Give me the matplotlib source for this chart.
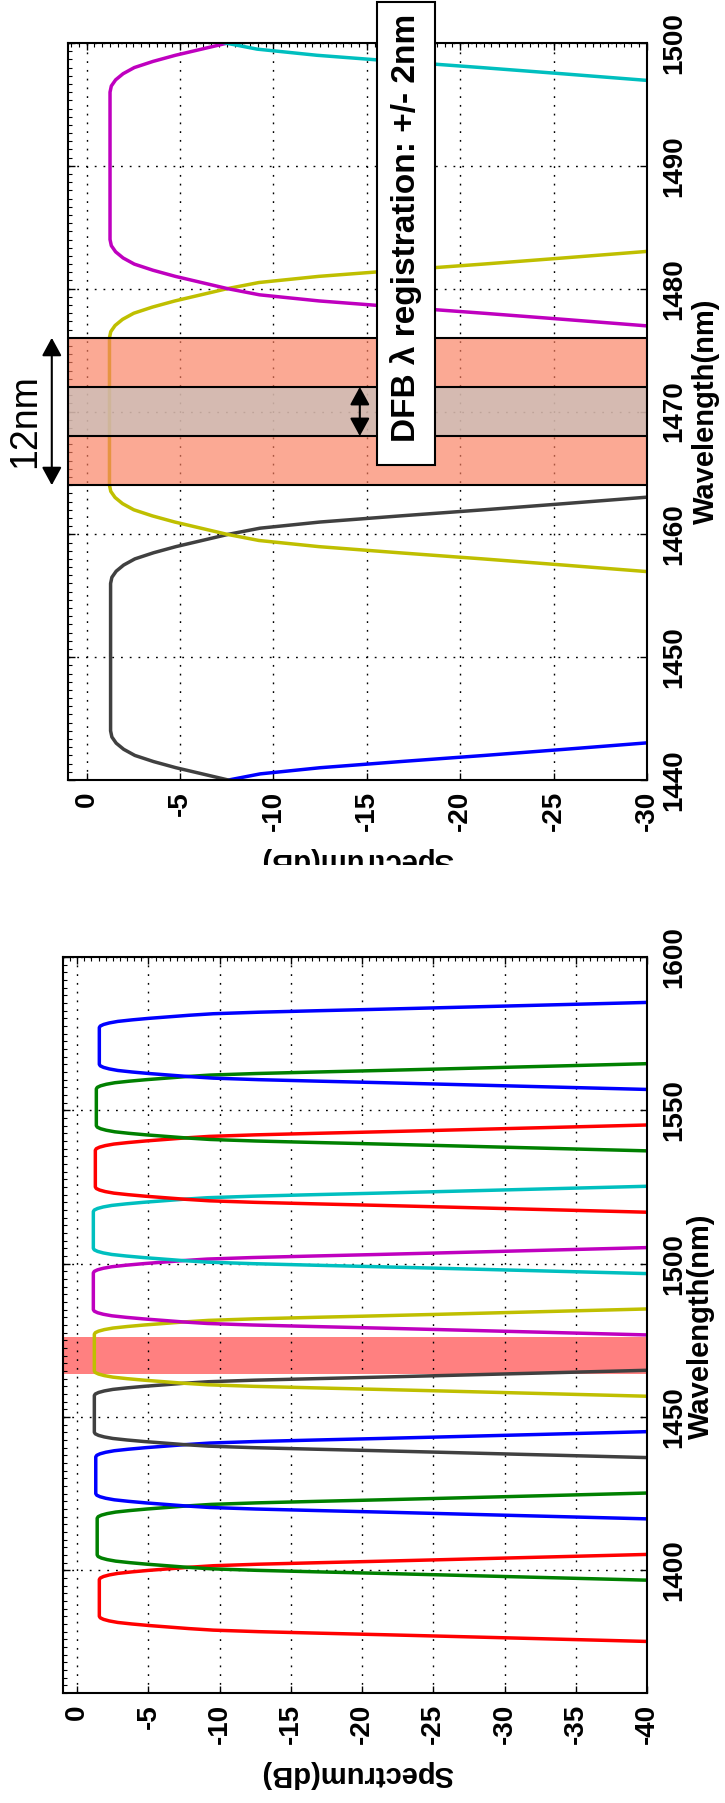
import numpy as np
import matplotlib
matplotlib.use("Agg")
import matplotlib.pyplot as plt
from matplotlib.patches import Rectangle
from matplotlib.ticker import MultipleLocator

plt.rcParams["font.family"] = ["Liberation Sans", "DejaVu Sans"]
plt.rcParams["font.weight"] = "bold"
plt.rcParams["axes.unicode_minus"] = False

W, H = 725, 1803

# passband shape: offset from channel centre (nm) -> drop below flat top (dB)
profile_offset = [0, 6.0, 6.5, 7.0, 7.5, 8.0, 8.5, 9.0, 9.5, 10.0, 10.5, 11.0,
                  11.5, 12.0, 12.5, 13.0, 13.5, 14.0, 14.5, 15.0, 16.0]
profile_drop = [0, 0.0, 0.07, 0.3, 0.7, 1.3, 2.3, 3.5, 4.9, 6.3, 8.0, 11.2,
                15.5, 20.0, 24.3, 28.5, 32.7, 36.9, 41.0, 45.0, 53.0]

# full CWDM view (lower panel)
full_centers = [1391, 1411, 1431, 1451, 1471, 1491, 1511, 1531, 1551, 1571]
full_peaks = [-1.55, -1.4, -1.3, -1.2, -1.2, -1.13, -1.13, -1.27, -1.34, -1.55]
full_colors = ["#ff0000", "#008000", "#0000ff", "#404040", "#bfbf00",
               "#bf00bf", "#00bfbf", "#ff0000", "#008000", "#0000ff"]

# zoomed view (upper panel)
zoom_centers = [1430, 1450, 1470, 1490, 1510]
zoom_peaks = [-1.3, -1.28, -1.22, -1.25, -1.13]
zoom_colors = ["#0000ff", "#404040", "#bfbf00", "#bf00bf", "#00bfbf"]

band_lo, band_hi = 1464, 1476
dfb_lo, dfb_hi = 1468, 1472


def channel(center, peak):
    off = np.array(profile_offset)
    drop = np.array(profile_drop)
    wl = np.concatenate([center - off[::-1], center + off[1:]])
    db = np.concatenate([peak - drop[::-1], peak - drop[1:]])
    return db, wl


def fig_rect(x0, y0, x1, y1):
    # pixel box (top-left origin) -> figure fraction
    return x0 / W, 1 - y1 / H, (x1 - x0) / W, (y1 - y0) / H


def style_axes(ax, x_minor, y_minor):
    ax.grid(True, which="major", color="black", lw=1.0, linestyle=(0, (1.3, 5)))
    ax.xaxis.set_minor_locator(MultipleLocator(x_minor))
    ax.yaxis.set_minor_locator(MultipleLocator(y_minor))
    ax.tick_params(which="major", direction="in", length=5, width=1,
                   top=True, bottom=True, left=True, right=True,
                   labelleft=False, labelright=True, labelbottom=True,
                   labelsize=20)
    ax.tick_params(which="minor", direction="in", length=3, width=0.8,
                   top=True, bottom=False, left=True, right=False)
    ax.tick_params(axis="x", labelrotation=90, pad=8)
    ax.tick_params(axis="y", labelrotation=90, pad=10)
    for lab in ax.get_yticklabels():
        lab.set_verticalalignment("center")
    for sp in ax.spines.values():
        sp.set_linewidth(1.5)


fig = plt.figure(figsize=(W / 100, H / 100), dpi=100)

# ---------------- upper panel (zoom 1440-1500) ----------------
ax1 = fig.add_axes(fig_rect(68, 43, 647, 780))
for c, p, col in zip(zoom_centers, zoom_peaks, zoom_colors):
    x, y = channel(c, p)
    ax1.plot(x, y, color=col, lw=2.5, zorder=2)
ax1.axhspan(band_lo, band_hi, facecolor=(0.98, 0.50, 0.38, 0.68),
            edgecolor="black", lw=1.5, zorder=3)
ax1.axhspan(dfb_lo, dfb_hi, facecolor=(0.78, 0.76, 0.74, 0.72),
            edgecolor="black", lw=1.5, zorder=3.1)
ax1.set_xlim(1, -30)
ax1.set_ylim(1440, 1500)
ax1.set_xticks([0, -5, -10, -15, -20, -25, -30])
ax1.set_yticks([1440, 1450, 1460, 1470, 1480, 1490, 1500])
style_axes(ax1, 5 / 12, 10 / 15)

arrow_kw = dict(arrowstyle="<|-|>,head_length=0.55,head_width=0.3",
                color="black", lw=1.5, mutation_scale=20, shrinkA=0, shrinkB=0)
ax1.annotate("", xy=(-0.028, band_hi), xytext=(-0.028, band_lo),
             xycoords=ax1.get_yaxis_transform(), annotation_clip=False,
             arrowprops=arrow_kw)
ax1.annotate("", xy=(0.504, dfb_hi), xytext=(0.504, dfb_lo),
             xycoords=ax1.get_yaxis_transform(), annotation_clip=False,
             arrowprops=arrow_kw, zorder=5)

# ---------------- lower panel (full band) ----------------
ax2 = fig.add_axes(fig_rect(63, 957, 647, 1693))
ax2.axhspan(band_lo, band_hi, facecolor="#ff8080", edgecolor="none", zorder=1)
for c, p, col in zip(full_centers, full_peaks, full_colors):
    x, y = channel(c, p)
    ax2.plot(x, y, color=col, lw=2.5, zorder=2)
ax2.set_xlim(1, -40)
ax2.set_ylim(1360, 1600)
ax2.set_xticks([0, -5, -10, -15, -20, -25, -30, -35, -40])
ax2.set_yticks([1400, 1450, 1500, 1550, 1600])
style_axes(ax2, 0.5, 2.5)


def ftext(x, y, s, **kw):
    fig.text(x / W, 1 - y / H, s, **kw)


# axis titles (page is rotated)
ftext(706, 411, "Wavelength(nm)", rotation=90, ha="center", va="center", fontsize=21)
ftext(701, 1326, "Wavelength(nm)", rotation=90, ha="center", va="center", fontsize=21)
ftext(357, 847, "Spectrum(dB)", rotation=180, ha="center", va="top", fontsize=21)
ftext(357, 1760, "Spectrum(dB)", rotation=180, ha="center", va="top", fontsize=21)

# the upper label is cut off in the source page
fig.patches.append(Rectangle((150 / W, 1 - 905 / H), 410 / W, 40 / H,
                             transform=fig.transFigure, facecolor="white",
                             edgecolor="none", zorder=10))

ftext(25, 421, "12nm", rotation=90, ha="center", va="center", fontsize=27,
      fontweight="normal")

fig.patches.append(Rectangle((377 / W, 1 - 465 / H), 58 / W, 463 / H,
                             transform=fig.transFigure, facecolor="white",
                             edgecolor="black", lw=1.5, zorder=6))
ftext(406, 228, "DFB \u03bb registration: +/- 2nm", rotation=90, ha="center",
      va="center", fontsize=24, zorder=7)

fig.savefig("out.png", dpi=100, facecolor="white")
